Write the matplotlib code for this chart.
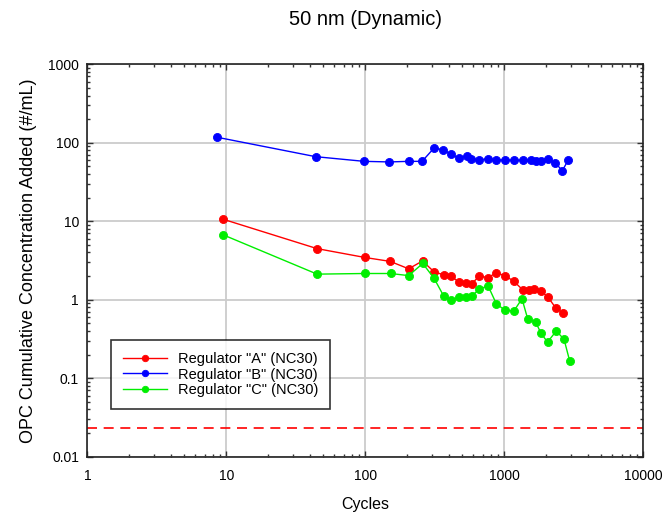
import matplotlib
matplotlib.use("Agg")
import matplotlib.pyplot as plt
from matplotlib.ticker import LogLocator, FixedLocator, FixedFormatter, NullFormatter

plt.rcParams['font.family'] = ['Liberation Sans', 'DejaVu Sans']

# Regulator "A" (NC30)
a_cycles = [9.5, 45, 99, 151, 205, 258, 312, 366, 416, 470, 528, 583, 660, 763, 876, 1010,
            1170, 1355, 1515, 1640, 1836, 2060, 2340, 2645]
a_conc = [10.6, 4.48, 3.46, 3.08, 2.48, 3.12, 2.27, 2.08, 2.01, 1.67, 1.64, 1.60, 2.0, 1.92,
          2.2, 2.03, 1.72, 1.34, 1.34, 1.36, 1.29, 1.08, 0.79, 0.68]

# Regulator "B" (NC30)
b_cycles = [8.5, 44, 98, 149, 205, 256, 311, 364, 414, 470, 536, 576, 660, 758, 870, 1004,
            1180, 1355, 1556, 1690, 1836, 2045, 2330, 2613, 2890]
b_conc = [118, 66.5, 58, 57, 58, 58, 85, 82, 71, 64, 68, 63, 60.3, 62.7, 60.3, 60.3,
          59.8, 60, 59.8, 58.5, 59, 61.5, 55.4, 44, 60.8]

# Regulator "C" (NC30)
c_cycles = [9.5, 45, 99, 152, 205, 259, 312, 366, 416, 470, 528, 583, 660, 763, 876, 1004,
            1170, 1340, 1475, 1680, 1836, 2045, 2366, 2690, 2950]
c_conc = [6.71, 2.12, 2.16, 2.16, 2.03, 2.9, 1.88, 1.12, 0.99, 1.08, 1.09, 1.12, 1.36, 1.51,
          0.89, 0.74, 0.716, 1.03, 0.565, 0.52, 0.374, 0.289, 0.40, 0.313, 0.167]

limit_level = 0.0235

x_ticks = [1, 10, 100, 1000, 10000]
x_labels = ['1', '10', '100', '1000', '10000']
y_ticks = [0.01, 0.1, 1, 10, 100, 1000]
y_labels = ['0.01', '0.1', '1', '10', '100', '1000']

fig = plt.figure(figsize=(6.65, 5.24), dpi=100)
ax = fig.add_axes([0.1313, 0.1284, 0.8361, 0.7489])

ax.plot(a_cycles, a_conc, color='#ff0000', lw=1, marker='o', ms=5.8, mew=0.6, label='Regulator "A" (NC30)')
ax.plot(b_cycles, b_conc, color='#0000ff', lw=1, marker='o', ms=5.8, mew=0.6, label='Regulator "B" (NC30)')
ax.plot(c_cycles, c_conc, color='#00ee00', lw=1, marker='o', ms=5.8, mew=0.6, label='Regulator "C" (NC30)')
ax.axhline(limit_level, color='#ff0000', lw=1.2, dashes=(6, 4))

ax.set_xscale('log')
ax.set_yscale('log')
ax.set_xlim(1, 10000)
ax.set_ylim(0.01, 1000)

ax.xaxis.set_major_locator(FixedLocator(x_ticks))
ax.xaxis.set_major_formatter(FixedFormatter(x_labels))
ax.yaxis.set_major_locator(FixedLocator(y_ticks))
ax.yaxis.set_major_formatter(FixedFormatter(y_labels))
ax.xaxis.set_minor_locator(LogLocator(base=10, subs=range(2, 10), numticks=20))
ax.yaxis.set_minor_locator(LogLocator(base=10, subs=range(2, 10), numticks=20))
ax.xaxis.set_minor_formatter(NullFormatter())
ax.yaxis.set_minor_formatter(NullFormatter())

ax.tick_params(which='both', direction='in', top=True, right=True, labelsize=10, color='#333333')
ax.tick_params(which='major', length=4, width=1)
ax.tick_params(which='minor', length=2.5, width=1)
ax.tick_params(axis='x', pad=9)
ax.tick_params(axis='y', pad=6)

ax.grid(True, which='major', color='#cccccc', lw=1.3)
ax.set_axisbelow(True)
for sp in ax.spines.values():
    sp.set_color('#222222')
    sp.set_linewidth(1.2)

ax.set_xlabel('Cycles', fontsize=11.5, labelpad=10)
ax.set_ylabel('OPC Cumulative Concentration Added (#/mL)', fontsize=13, labelpad=8)
fig.text(0.55, 0.962, '50 nm (Dynamic)', ha='center', va='center', fontsize=14.5)

leg = ax.legend(loc='lower left', bbox_to_anchor=(0.03, 0.103), fontsize=10.5, frameon=True,
                fancybox=False, edgecolor='black', borderpad=0.8, handlelength=3.0,
                labelspacing=0.12, markerscale=0.8)
leg.get_frame().set_linewidth(1.2)

fig.savefig('out.png', dpi=100)
